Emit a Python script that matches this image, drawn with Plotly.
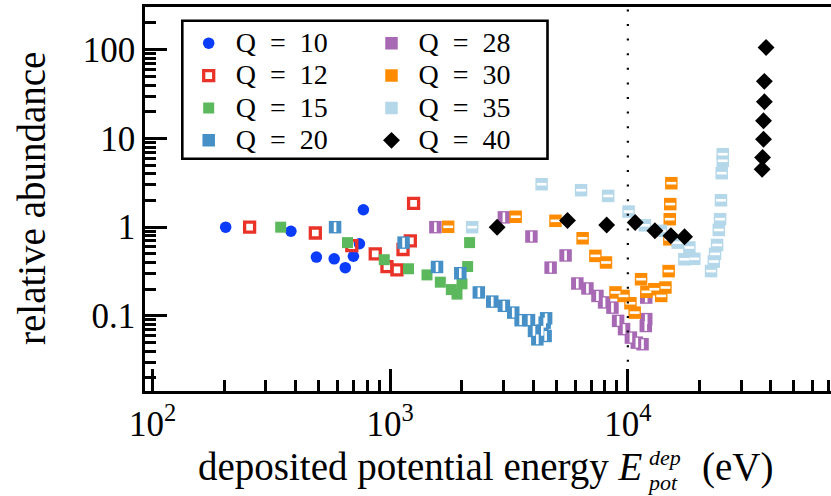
import plotly.graph_objects as go

W, H = 831, 496
ML, MR, MT, MB = 145, 0, 7, 105
PW, PH = W - ML - MR, H - MT - MB


def px_x(px):
    return (px - ML) / PW


def px_y(py):
    return (H - MB - py) / PH


FONT = "Liberation Serif"

# ---- data ----
q10_x = [203, 382, 489, 581, 647, 700, 742, 771]
q10_y = [1.0, 0.90, 0.46, 0.44, 0.35, 0.47, 0.65, 1.57]

q12_x = [256, 484, 689, 865, 969, 1067, 1132, 1215, 1254]
q12_y = [1.0, 0.86, 0.62, 0.50, 0.36, 0.33, 0.56, 0.70, 1.85]

q15_x = [346, 661, 944, 1194, 1428, 1625, 1808, 1910, 2005, 2117, 2158]
q15_y = [1.0, 0.67, 0.43, 0.34, 0.29, 0.24, 0.198, 0.176, 0.23, 0.36, 0.67]

q20_x = [586, 1138, 1574, 1972, 2360, 2688, 3008, 3294, 3538, 3837, 4028,
         4161, 4366, 4467, 4508, 4530]
q20_y = [1.0, 0.67, 0.356, 0.303, 0.184, 0.145, 0.130, 0.109, 0.0895, 0.0895,
         0.0678, 0.0545, 0.068, 0.084, 0.0595, 0.094]

q28_x = [1549, 3008, 3929, 4732, 5470, 6130, 6760, 7450, 7945, 8615, 9100,
         9640, 10300, 10910, 11530, 11900, 11950, 11950]
q28_y = [1.0, 1.29, 0.785, 0.35, 0.48, 0.232, 0.204, 0.168, 0.142, 0.124,
         0.088, 0.071, 0.057, 0.050, 0.048, 0.077, 0.092, 0.161]

q30_x = [1753, 3372, 4960, 6452, 7302, 8091, 8874, 9592, 10256, 10684, 11368,
         11970, 12927, 13820, 14395, 14850, 14950, 15010, 15085, 15245]
q30_y = [1.01, 1.31, 1.18, 0.75, 0.475, 0.40, 0.184, 0.168, 0.139, 0.109,
         0.259, 0.187, 0.20, 0.168, 0.209, 0.32, 0.73, 1.23, 1.82, 3.13]

q35_x = [2213, 4338, 6357, 8265, 10070, 11800, 13780, 16200, 18150, 17300,
         19050, 22400, 23000, 23290, 23750, 24140, 24440, 24660, 24830, 25090,
         25090]
q35_y = [1.0, 3.05, 2.61, 2.25, 1.50, 1.05, 0.91, 0.67, 0.59, 0.435, 0.44,
         0.32, 0.41, 0.50, 0.63, 0.93, 1.23, 2.01, 4.06, 5.6, 6.65]

q40_x = [2818, 5572, 8147, 10740, 13000, 15180, 17330, 38170, 37550, 37550,
         37240, 37240, 36900, 36750]
q40_y = [1.0, 1.19, 1.06, 1.13, 0.91, 0.80, 0.78, 106, 44, 25.9, 15.8, 9.8,
         6.1, 4.5]

x_major = [100, 1000, 10000]
x_major_text = ["10<sup>2</sup>", "10<sup>3</sup>", "10<sup>4</sup>"]
y_major = [0.1, 1, 10, 100]
y_major_text = ["0.1", "1", "10", "100"]
x_minor = [m * 10 ** e for e in (2, 3, 4) for m in range(2, 10)]
y_minor = [m * 10.0 ** e for e in (-2, -1, 0, 1, 2) for m in range(2, 10)]

LEG_SP = "\u00a0\u00a0"


def label(q):
    return ("<span style='font-size:28px'>\u00a0Q" + LEG_SP + "=" + LEG_SP
            + str(q) + "</span>")


fig = go.Figure()


def add(q, x, y, color, symbol, size, legend, lw=0, slit=None):
    fig.add_trace(go.Scatter(
        x=x, y=y, mode="markers", name=label(q), legend=legend,
        marker=dict(symbol=symbol, size=size, color=color,
                    line=dict(width=lw, color=color)),
    ))
    if slit:
        fig.add_trace(go.Scatter(
            x=x, y=y, mode="markers", showlegend=False, hoverinfo="skip",
            marker=dict(symbol=slit, size=7, color="white",
                        line=dict(width=2.6, color="white")),
        ))


add(10, q10_x, q10_y, "#0a3cfa", "circle", 11.5, "legend")
add(12, q12_x, q12_y, "#ea3328", "square-open", 10, "legend", lw=3.3)
add(15, q15_x, q15_y, "#5cb85c", "square", 11, "legend")
add(20, q20_x, q20_y, "#4690c7", "square", 12.5, "legend", slit="line-ns")
add(28, q28_x, q28_y, "#a869b4", "square", 12.5, "legend2", slit="line-ns")
add(30, q30_x, q30_y, "#ff8c00", "square", 12.5, "legend2", slit="line-ew")
add(35, q35_x, q35_y, "#b4d8e9", "square", 12.5, "legend2", slit="line-ew")
add(40, q40_x, q40_y, "#000000", "diamond", 13, "legend2")

axis_common = dict(
    showline=True, linecolor="black", linewidth=2.5,
    ticks="inside", ticklen=22, tickwidth=2.5, tickcolor="black",
    showgrid=False, zeroline=False,
    tickfont=dict(family=FONT, size=35, color="black"),
)

fig.update_xaxes(
    type="log", range=[1.968, 4.855], tickmode="array",
    tickvals=x_major, ticktext=x_major_text, mirror=True,
    minor=dict(tickmode="array", tickvals=x_minor, ticks="inside",
               ticklen=11, tickwidth=2.5, tickcolor="black", showgrid=False),
    **axis_common,
)
fig.update_yaxes(
    type="log", range=[-1.846, 2.481], tickmode="array",
    tickvals=y_major, ticktext=y_major_text,
    minor=dict(tickmode="array", tickvals=y_minor, ticks="inside",
               ticklen=11, tickwidth=2.5, tickcolor="black", showgrid=False),
    **axis_common,
)

# vertical dotted line at 10^4
fig.add_shape(type="line", xref="x", yref="paper", x0=10000, x1=10000,
              y0=0, y1=1, layer="above",
              line=dict(color="black", width=2.2, dash="2px,12.6px"))

# legend frame
fig.add_shape(type="rect", xref="paper", yref="paper",
              x0=px_x(182.3), x1=px_x(547.5), y0=px_y(158.7), y1=px_y(20.7),
              line=dict(color="black", width=2.6), fillcolor="white",
              layer="below")

leg_common = dict(
    font=dict(family=FONT, size=22.6, color="black"),
    bgcolor="rgba(0,0,0,0)", borderwidth=0,
    xanchor="left", yanchor="top", orientation="v",
    tracegroupgap=0, itemclick=False, itemdoubleclick=False,
)

# axis titles
ann = []
ann.append(dict(text="relative abundance", xref="paper", yref="paper",
                x=px_x(31), y=px_y(199), textangle=-90, showarrow=False,
                xanchor="center", yanchor="middle",
                font=dict(family=FONT, size=39, color="black")))
ann.append(dict(text="deposited potential energy <i>E</i>", xref="paper",
                yref="paper", x=px_x(645), y=px_y(467), showarrow=False,
                xanchor="right", yanchor="middle",
                font=dict(family=FONT, size=39, color="black")))
ann.append(dict(text=("<span style='font-size:22px'><i>dep</i></span><br>"
                      "<span style='font-size:22px'><i>pot</i></span>"),
                xref="paper", yref="paper",
                x=px_x(645), y=px_y(470), showarrow=False,
                xanchor="left", yanchor="middle", align="left",
                font=dict(family=FONT, size=19.5, color="black")))
ann.append(dict(text="(eV)", xref="paper", yref="paper",
                x=px_x(700), y=px_y(467), showarrow=False,
                xanchor="left", yanchor="middle",
                font=dict(family=FONT, size=39, color="black")))

fig.update_layout(
    width=W, height=H,
    margin=dict(l=ML, r=MR, t=MT, b=MB, pad=0),
    paper_bgcolor="white", plot_bgcolor="white",
    font=dict(family=FONT, size=35, color="black"),
    legend=dict(x=px_x(188.7), y=px_y(22), **leg_common),
    legend2=dict(x=px_x(371.5), y=px_y(22), **leg_common),
    annotations=ann,
    showlegend=True,
)

fig.write_html("out.html")
